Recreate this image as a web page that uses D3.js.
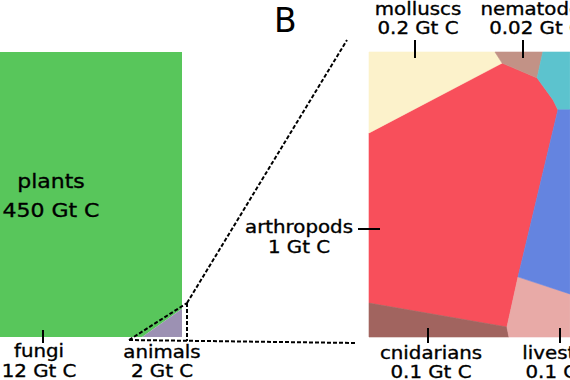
<!DOCTYPE html>
<html>
<head>
<meta charset="utf-8">
<script src="https://cdn.jsdelivr.net/npm/d3@7/dist/d3.min.js"></script>
<style>
  html, body { margin: 0; padding: 0; background: #fff; }
  svg { display: block; }
  text { font-family: "DejaVu Sans", sans-serif; fill: #000; }
  text.lab { stroke: #000; stroke-width: 0.35; }
</style>
</head>
<body>
<svg id="chart" width="570" height="380"></svg>
<script>
// ---- data ----
const kingdoms = ["plants", "fungi", "animals"];
const kingdomValues = [450, 12, 2];
const animalGroups = ["arthropods", "molluscs", "nematodes", "cnidarians", "livestock", "fish", "wild mammals"];
const animalValues = [1, 0.2, 0.02, 0.1, 0.1, 0.7, 0.007];
const unit = "Gt C";
const panelLabel = "B";

// ---- layout (cell shapes in panel units, 0..1) ----
const kingdomColors = ["#58c65b", "#fcd553", "#9c91b3"];
const kingdomCells = [
  [[0,0],[1,0],[1,0.901],[0.860,1],[0.351,1],[0,0.895]],
  [[0,0.895],[0.351,1],[0,1]],
  [[0.860,1],[1,0.901],[1,1]]
];
const animalColors = ["#f84f5b", "#fcf2cb", "#c29286", "#a1645f", "#e8aaa7", "#5cc3ce", "#6484e0"];
const animalCells = [
  [[0,0.284],[0.467,0.039],[0.590,0.091],[0.646,0.168],[0.663,0.203],[0.523,0.789],[0.484,0.965],[0,0.881]],
  [[0,0],[0.442,0],[0.467,0.039],[0,0.284]],
  [[0.442,0],[0.610,0],[0.590,0.091],[0.467,0.039]],
  [[0,0.881],[0.484,0.965],[0.491,1],[0,1]],
  [[0.523,0.789],[0.705,0.849],[0.705,1],[0.491,1],[0.484,0.965]],
  [[0.610,0],[0.705,0],[0.705,0.203],[0.663,0.203],[0.646,0.168],[0.590,0.091]],
  [[0.663,0.203],[0.705,0.203],[0.705,0.849],[0.523,0.789]]
];

const svg = d3.select("#chart");

// panel scales
const xA = d3.scaleLinear().domain([0, 1]).range([-103, 182]);
const yA = d3.scaleLinear().domain([0, 1]).range([52, 337]);
const xB = d3.scaleLinear().domain([0, 1]).range([369, 654]);
const yB = d3.scaleLinear().domain([0, 1]).range([52, 337]);

const lineA = d3.line().x(d => xA(d[0])).y(d => yA(d[1])).curve(d3.curveLinearClosed);
const lineB = d3.line().x(d => xB(d[0])).y(d => yB(d[1])).curve(d3.curveLinearClosed);

svg.append("g").selectAll("path").data(kingdomCells).join("path")
  .attr("d", lineA)
  .attr("fill", (d, i) => kingdomColors[i]);

svg.append("g").selectAll("path").data(animalCells).join("path")
  .attr("d", lineB)
  .attr("fill", (d, i) => animalColors[i])
  .attr("stroke", (d, i) => animalColors[i])
  .attr("stroke-width", 0.6);

// zoom guide (dashed)
const dash = svg.append("g")
  .attr("fill", "none").attr("stroke", "#000")
  .attr("stroke-width", 2).attr("stroke-dasharray", "4,2");
const guide = [
  [[129, 340], [187, 303]],
  [[187, 303], [187, 341]],
  [[129, 340], [355, 343]],
  [[187, 303], [347, 40]]
];
dash.selectAll("path").data(guide).join("path")
  .attr("d", d3.line());

// panel label
svg.append("text").attr("x", 274).attr("y", 32)
  .attr("font-size", 33).text(panelLabel);

// labels
const fmt = v => `${v} ${unit}`;
function label(name, value, cx, y1, size, gap) {
  const g = svg.append("g").attr("transform", `translate(${cx},0) scale(1.1,1)`);
  g.append("text").attr("class", "lab").attr("x", 0).attr("y", y1).attr("text-anchor", "middle")
    .attr("font-size", size).text(name);
  g.append("text").attr("class", "lab").attr("x", 0).attr("y", y1 + gap).attr("text-anchor", "middle")
    .attr("font-size", size).text(fmt(value));
}
const labelPos = {
  plants: [51, 188, 20, 29],
  fungi: [39, 357, 18, 20],
  animals: [162, 358, 18, 19],
  arthropods: [299, 233, 18, 20],
  molluscs: [418, 15, 18, 19],
  nematodes: [536, 15, 18, 19],
  cnidarians: [431, 359, 18, 19],
  livestock: [566, 359, 18, 19]
};
kingdoms.forEach((k, i) => {
  const p = labelPos[k];
  label(k, kingdomValues[i], p[0], p[1], p[2], p[3]);
});
animalGroups.forEach((k, i) => {
  const p = labelPos[k];
  if (p) label(k, animalValues[i], p[0], p[1], p[2], p[3]);
});

// leader ticks
const ticks = [
  [[43, 330], [43, 343]],
  [[358, 229], [380, 229]],
  [[415, 40], [415, 58]],
  [[523, 40], [523, 58]],
  [[428, 328], [428, 343]],
  [[560, 328], [560, 343]]
];
svg.append("g").attr("stroke", "#000").attr("stroke-width", 2)
  .selectAll("path").data(ticks).join("path").attr("d", d3.line());
</script>
</body>
</html>
